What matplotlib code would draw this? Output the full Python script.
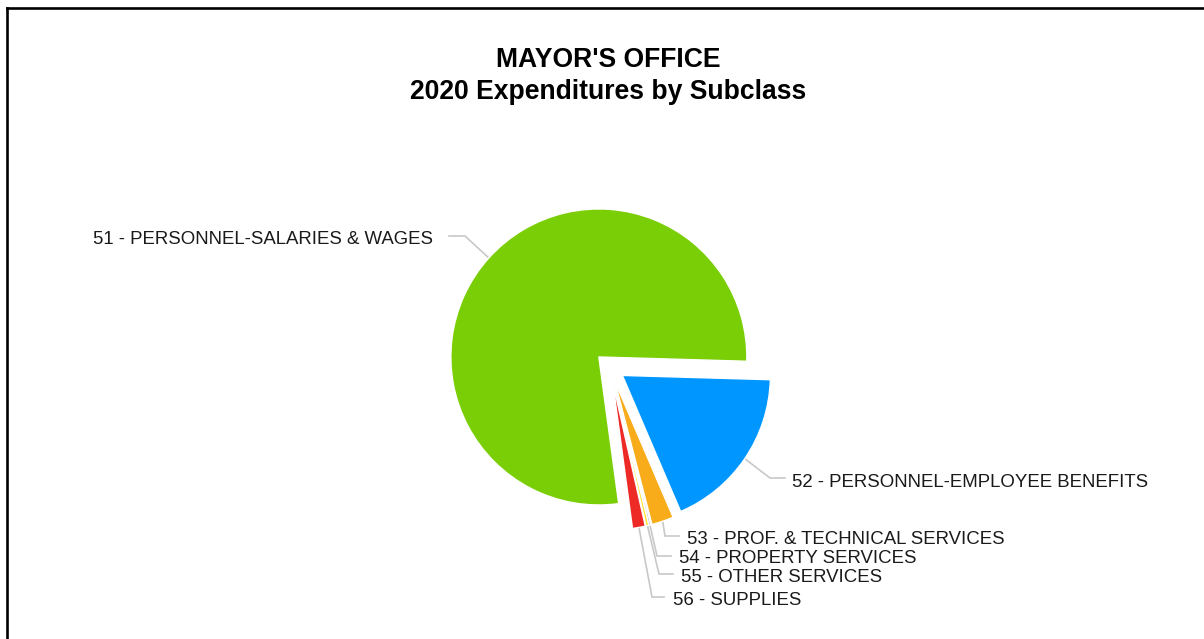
import math
import matplotlib
matplotlib.use("Agg")
import matplotlib.pyplot as plt
from matplotlib.lines import Line2D

plt.rcParams['font.family'] = ['Liberation Sans', 'DejaVu Sans']

# Expenditure shares by subclass (percent of total)
subclasses = [
    "51 - PERSONNEL-SALARIES & WAGES",
    "52 - PERSONNEL-EMPLOYEE BENEFITS",
    "53 - PROF. & TECHNICAL SERVICES",
    "54 - PROPERTY SERVICES",
    "55 - OTHER SERVICES",
    "56 - SUPPLIES",
]
shares = [77.6, 18.1, 2.4, 0.2, 0.3, 1.4]
colors = ["#7ACE06", "#0096FF", "#F9AC1A", "#9C9CB4", "#FFE01A", "#EE2A26"]

title_lines = ["MAYOR'S OFFICE", "2020 Expenditures by Subclass"]

W, H = 1204, 639
fig = plt.figure(figsize=(W / 100, H / 100), dpi=100)
ax = fig.add_axes([0, 0, 1, 1])

# pixel-space helpers (y measured from top)
def py(y):
    return H - y

center = (610, py(367))
radius = 148
offset = 15  # every slice is pulled out from the centre

wedges, _ = ax.pie(
    shares,
    colors=colors,
    startangle=-82.3,
    counterclock=False,
    radius=radius,
    center=center,
    explode=[offset] * len(shares),
    wedgeprops=dict(edgecolor="white", linewidth=1.0),
    normalize=True,
)
for w in wedges:
    w.set_zorder(3)

# label layout: text anchor (x, baseline y, ha), connector bend and end points
label_layout = [
    dict(text=(433, 244, "right"), bend=(465, 236), end=(449, 236)),
    dict(text=(792, 487, "left"), bend=(770, 478), end=(785, 478)),
    dict(text=(687, 544, "left"), bend=(665, 536), end=(679, 536)),
    dict(text=(679, 563, "left"), bend=(657, 556), end=(671, 556)),
    dict(text=(681, 582, "left"), bend=(659, 574), end=(673, 574)),
    dict(text=(673, 605, "left"), bend=(652, 597), end=(664, 597)),
]

for w, lab, lay in zip(wedges, subclasses, label_layout):
    mid = math.radians(0.5 * (w.theta1 + w.theta2))
    cx, cy = w.center
    r = w.r
    sx, sy = cx + r * math.cos(mid), cy + r * math.sin(mid)
    bx, by = lay["bend"]
    ex, ey = lay["end"]
    ax.plot([sx, bx, ex], [sy, py(by), py(ey)], color="#C8C8C8",
            lw=1.2, zorder=2, solid_joinstyle="miter")
    tx, ty, ha = lay["text"]
    ax.text(tx, py(ty), lab, ha=ha, va="baseline", fontsize=13.4,
            color="#1a1a1a", zorder=4)

ax.text(608, py(67), title_lines[0], ha="center", va="baseline",
        fontsize=19.1, fontweight="bold", color="black")
ax.text(608, py(99), title_lines[1], ha="center", va="baseline",
        fontsize=19.1, fontweight="bold", color="black")

ax.set_xlim(0, W)
ax.set_ylim(0, H)
ax.set_aspect("auto")
ax.axis("off")

# outer frame (left and top edges)
fig.add_artist(Line2D([6.5 / W, 6.5 / W], [0, 1 - 7.5 / H], transform=fig.transFigure,
                      color="black", lw=1.9, solid_capstyle="projecting"))
fig.add_artist(Line2D([6.5 / W, 1], [1 - 7.5 / H, 1 - 7.5 / H], transform=fig.transFigure,
                      color="black", lw=1.9, solid_capstyle="projecting"))

fig.savefig("out.png", dpi=100, facecolor="white")
